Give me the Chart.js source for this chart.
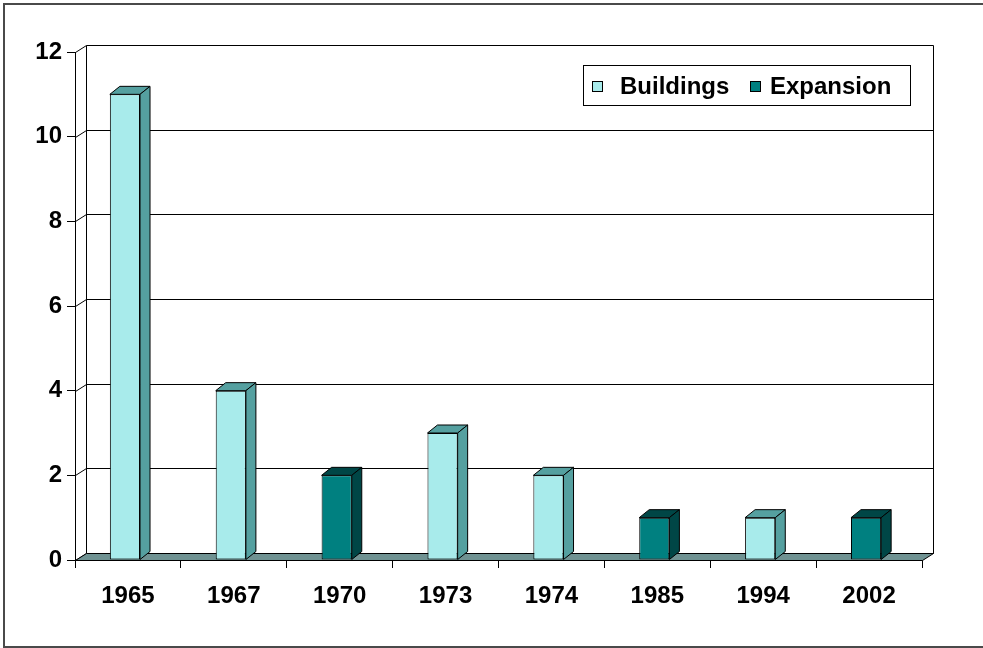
<!DOCTYPE html>
<html><head><meta charset="utf-8">
<script src="https://cdn.jsdelivr.net/npm/chart.js@4/dist/chart.umd.min.js"></script>
<style>html,body{margin:0;padding:0;background:#fff;overflow:hidden}</style>
</head><body>
<canvas id="c" width="983" height="648"></canvas>
<script>
const categories = ['1965','1967','1970','1973','1974','1985','1994','2002'];
const buildings = [11, 4, null, 3, 2, null, 1, null];
const expansion = [null, null, 2, null, null, 1, null, 1];
const yTicks = [0, 2, 4, 6, 8, 10, 12];
const seriesNames = ['Buildings', 'Expansion'];

const FONT = '"Liberation Sans", Arial, Helvetica, sans-serif';
const WALL = {dx: 11, dy: -7};
const BAR = {dx: 10, dy: -8, shift: -3};
const FRONT = ['#A8EBEB', '#008080'];
const SHADE = ['#55A0A0', '#004646'];
const FLOOR = '#6F9292';

function line(ctx, x1, y1, x2, y2){ ctx.beginPath(); ctx.moveTo(x1, y1); ctx.lineTo(x2, y2); ctx.stroke(); }
function poly(ctx, pts, fill){
  ctx.beginPath(); ctx.moveTo(pts[0][0], pts[0][1]);
  for (let i = 1; i < pts.length; i++) ctx.lineTo(pts[i][0], pts[i][1]);
  ctx.closePath(); ctx.fillStyle = fill; ctx.fill(); ctx.stroke();
}

const pseudo3d = {
  id: 'pseudo3d',
  beforeDraw(chart){
    const ctx = chart.ctx;
    ctx.save();
    ctx.fillStyle = '#fff'; ctx.fillRect(0, 0, chart.width, chart.height);
    ctx.strokeStyle = '#4a4a4a'; ctx.lineWidth = 2;
    ctx.strokeRect(4, 4, 1000, 643);
    ctx.restore();
  },
  beforeDatasetsDraw(chart){
    const {ctx, chartArea: a, scales: {y}} = chart;
    ctx.save();
    ctx.strokeStyle = '#000'; ctx.lineWidth = 1;
    const L = a.left + 0.5, R = a.right + 0.5;
    yTicks.forEach(v => {
      const py = Math.round(y.getPixelForValue(v)) + 0.5;
      line(ctx, L, py, L + WALL.dx, py + WALL.dy);
      line(ctx, L + WALL.dx, py + WALL.dy, R + WALL.dx, py + WALL.dy);
    });
    const top = Math.round(y.getPixelForValue(12)) + 0.5;
    const bot = Math.round(y.getPixelForValue(0)) + 0.5;
    line(ctx, L + WALL.dx, top + WALL.dy, L + WALL.dx, bot + WALL.dy);
    line(ctx, R + WALL.dx, top + WALL.dy, R + WALL.dx, bot + WALL.dy);
    poly(ctx, [[L, bot], [R, bot], [R + WALL.dx, bot + WALL.dy], [L + WALL.dx, bot + WALL.dy]], FLOOR);
    ctx.restore();
    ctx.save();
    ctx.translate(BAR.shift, 0);
  },
  afterDatasetsDraw(chart){
    const ctx = chart.ctx;
    ctx.strokeStyle = '#000'; ctx.lineWidth = 1; ctx.lineJoin = 'miter';
    chart.data.datasets.forEach((ds, i) => {
      const meta = chart.getDatasetMeta(i);
      meta.data.forEach((bar, j) => {
        if (ds.data[j] == null) return;
        const p = bar.getProps(['x', 'y', 'base', 'width'], true);
        const l = p.x - p.width / 2, r = p.x + p.width / 2;
        poly(ctx, [[l, p.y], [r, p.y], [r + BAR.dx, p.y + BAR.dy], [l + BAR.dx, p.y + BAR.dy]], SHADE[i]);
        poly(ctx, [[r, p.y], [r + BAR.dx, p.y + BAR.dy], [r + BAR.dx, p.base + BAR.dy], [r, p.base]], SHADE[i]);
      });
    });
    ctx.restore();
  },
  afterDraw(chart){
    const ctx = chart.ctx;
    ctx.save();
    ctx.strokeStyle = '#000'; ctx.lineWidth = 1;
    ctx.fillStyle = '#fff';
    ctx.fillRect(583.5, 65.5, 327, 40);
    ctx.strokeRect(583.5, 65.5, 327, 40);
    const sx = [592.5, 750.5], tx = [620, 770];
    ctx.font = 'bold 24px ' + FONT;
    ctx.textBaseline = 'alphabetic';
    chart.data.datasets.forEach((ds, i) => {
      ctx.fillStyle = FRONT[i];
      ctx.fillRect(sx[i], 81.5, 10, 10);
      ctx.strokeRect(sx[i], 81.5, 10, 10);
      ctx.fillStyle = '#000';
      ctx.fillText(ds.label, tx[i], 94);
    });
    ctx.restore();
  }
};

new Chart(document.getElementById('c'), {
  type: 'bar',
  data: {
    labels: categories,
    datasets: [
      {label: seriesNames[0], data: buildings, backgroundColor: FRONT[0], borderColor: '#000', borderWidth: 1, borderSkipped: false},
      {label: seriesNames[1], data: expansion, backgroundColor: FRONT[1], borderColor: '#000', borderWidth: 1, borderSkipped: false}
    ]
  },
  options: {
    responsive: false,
    animation: false,
    devicePixelRatio: 1,
    layout: {padding: {top: 52, right: 61, bottom: 0, left: 0}},
    datasets: {bar: {categoryPercentage: 1, barPercentage: 0.285}},
    plugins: {legend: {display: false}, tooltip: {enabled: false}},
    scales: {
      x: {
        stacked: true,
        afterFit(s){ s.height = 88; },
        grid: {drawOnChartArea: false, drawTicks: true, tickLength: 8, color: '#000', offset: true},
        border: {display: true, color: '#000', width: 1},
        ticks: {color: '#000', padding: 14, font: {family: FONT, size: 24, weight: 'bold'}, maxRotation: 0}
      },
      y: {
        stacked: true,
        min: 0, max: 12,
        afterFit(s){ s.width = 75; },
        grid: {drawOnChartArea: false, drawTicks: true, tickLength: 8, color: '#000'},
        border: {display: true, color: '#000', width: 1},
        ticks: {stepSize: 2, color: '#000', padding: 5, font: {family: FONT, size: 24, weight: 'bold'}}
      }
    }
  },
  plugins: [pseudo3d]
});
</script>
</body></html>
